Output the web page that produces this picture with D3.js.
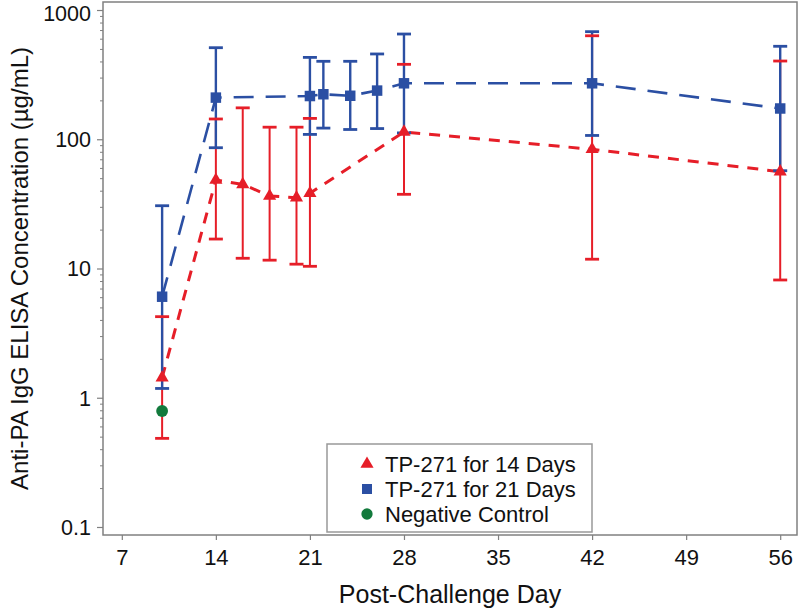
<!DOCTYPE html>
<html><head><meta charset="utf-8">
<script src="https://cdn.jsdelivr.net/npm/d3@7"></script>
<style>
body{margin:0;background:#fff;}
svg text{font-family:"Liberation Sans",Arial,sans-serif;fill:#111;}
</style></head>
<body>
<svg id="c" width="800" height="612"></svg>
<script>
// ---- data ----
const days14 = [10, 14, 16, 18, 20, 21, 28, 42, 56];
const mean14 = [1.43, 48.4, 44.8, 36.4, 35.3, 38.2, 114, 83.6, 56.1];
const upper14 = [4.24, 143.5, 175, 124, 124, 145, 380, 632, 403];
const lower14 = [0.485, 16.9, 12.0, 11.6, 10.8, 10.4, 37.5, 11.8, 8.15];

const days21 = [10, 14, 21, 22, 24, 26, 28, 42, 56];
const mean21 = [6.05, 210, 216, 223, 217, 238, 271, 271, 173];
const upper21 = [30.6, 511, 430, 401, 401, 457, 652, 680, 524];
const lower21 = [1.18, 86, 109, 122, 119, 121, 112, 107, 57.1];

const daysNeg = [10];
const meanNeg = [0.79];

const xTicks = [7, 14, 21, 28, 35, 42, 49, 56];
const yTicks = [0.1, 1, 10, 100, 1000];
const legendLabels = ["TP-271 for 14 Days", "TP-271 for 21 Days", "Negative Control"];

// ---- layout ----
const RED = "#e61e28", BLUE = "#2b4fa3", GREEN = "#127a3c", AXIS = "#808080";
const L = 103, R = 797, T = 2, B = 535;
const svg = d3.select("#c");

const x = d3.scaleLinear().domain([5.6, 57.25]).range([L, R]);
const y = d3.scaleLog().domain([Math.pow(10, -1.062), Math.pow(10, 3.062)]).range([B, T]);

// frame
svg.append("rect").attr("x", L).attr("y", T).attr("width", R - L).attr("height", B - T)
  .attr("fill", "none").attr("stroke", AXIS).attr("stroke-width", 1.5);

// x axis
const xAxis = svg.append("g").attr("transform", `translate(0,${B})`)
  .call(d3.axisBottom(x).tickValues(xTicks).tickSize(5).tickPadding(9).tickFormat(d3.format("d")));
xAxis.select(".domain").remove();
xAxis.selectAll("line").attr("stroke", AXIS).attr("stroke-width", 1.2);
xAxis.selectAll("text").attr("font-size", 22).attr("fill", "#111")
  .style("font-family", "Liberation Sans, Arial, sans-serif");

// y axis major
const yAxis = svg.append("g").attr("transform", `translate(${L},0)`)
  .call(d3.axisLeft(y).tickValues(yTicks).tickSize(6).tickPadding(6).tickFormat(d => String(d)));
yAxis.select(".domain").remove();
yAxis.selectAll("line").attr("stroke", AXIS).attr("stroke-width", 1.2);
yAxis.selectAll("text").attr("font-size", 21.5).attr("fill", "#111")
  .style("font-family", "Liberation Sans, Arial, sans-serif")
  .attr("dy", d => d === 1000 ? "0.5em" : "0.34em");

// y minor ticks
const minor = [];
for (let e = -1; e < 3; e++) for (let m = 2; m <= 9; m++) minor.push(m * Math.pow(10, e));
svg.append("g").attr("transform", `translate(${L},0)`)
  .call(d3.axisLeft(y).tickValues(minor).tickSize(3).tickFormat(""))
  .call(g => g.select(".domain").remove())
  .selectAll("line").attr("stroke", AXIS).attr("stroke-width", 1);

// axis titles
svg.append("text").attr("x", (L + R) / 2).attr("y", 603).attr("text-anchor", "middle")
  .attr("font-size", 25).text("Post-Challenge Day");
svg.append("text").attr("transform", `translate(28,${(T + B) / 2}) rotate(-90)`)
  .attr("text-anchor", "middle").attr("font-size", 24)
  .text("Anti-PA IgG ELISA Concentration (µg/mL)");

// series
const s14 = days14.map((d, i) => ({d, m: mean14[i], u: upper14[i], l: lower14[i]}));
const s21 = days21.map((d, i) => ({d, m: mean21[i], u: upper21[i], l: lower21[i]}));
const sNeg = daysNeg.map((d, i) => ({d, m: meanNeg[i]}));

const plot = svg.append("g");
const line = d3.line().x(p => x(p.d)).y(p => y(p.m));

// dashed lines
plot.append("path").datum(s14).attr("d", line).attr("fill", "none")
  .attr("stroke", RED).attr("stroke-width", 3).attr("stroke-dasharray", "11,9");
plot.append("path").datum(s21).attr("d", line).attr("fill", "none")
  .attr("stroke", BLUE).attr("stroke-width", 2.6).attr("stroke-dasharray", "20,12");

// error bar verticals
function verts(data, color, w) {
  plot.append("g").selectAll("line").data(data).join("line")
    .attr("x1", p => x(p.d)).attr("x2", p => x(p.d))
    .attr("y1", p => y(p.u)).attr("y2", p => y(p.l))
    .attr("stroke", color).attr("stroke-width", w);
}
function caps(data, color, w) {
  const g = plot.append("g");
  ["u", "l"].forEach(k => {
    g.selectAll("line." + k).data(data).join("line").attr("class", k)
      .attr("x1", p => x(p.d) - 7).attr("x2", p => x(p.d) + 7)
      .attr("y1", p => y(p[k])).attr("y2", p => y(p[k]))
      .attr("stroke", color).attr("stroke-width", w);
  });
}
verts(s14, RED, 2);
verts(s21, BLUE, 2.4);
caps(s21, BLUE, 2.8);
caps(s14, RED, 2.8);

// markers
plot.append("g").selectAll("path").data(s14).join("path")
  .attr("transform", p => `translate(${x(p.d)},${y(p.m)})`)
  .attr("d", d3.symbol(d3.symbolTriangle, 75)).attr("fill", RED);
plot.append("g").selectAll("path").data(s21).join("path")
  .attr("transform", p => `translate(${x(p.d)},${y(p.m)})`)
  .attr("d", d3.symbol(d3.symbolSquare, 110)).attr("fill", BLUE);
plot.append("g").selectAll("path").data(sNeg).join("path")
  .attr("transform", p => `translate(${x(p.d)},${y(p.m)})`)
  .attr("d", d3.symbol(d3.symbolCircle, 110)).attr("fill", GREEN);

// legend
const lg = svg.append("g");
lg.append("rect").attr("x", 327).attr("y", 444).attr("width", 265).attr("height", 88)
  .attr("fill", "#fff").attr("stroke", "#999").attr("stroke-width", 1.5);
const symTypes = [d3.symbolTriangle, d3.symbolSquare, d3.symbolCircle];
const symColors = [RED, BLUE, GREEN];
const rowY = [464, 489, 514];
legendLabels.forEach((t, i) => {
  lg.append("path").attr("transform", `translate(367,${rowY[i]})`)
    .attr("d", d3.symbol(symTypes[i], i === 0 ? 75 : 100)).attr("fill", symColors[i]);
  lg.append("text").attr("x", 385).attr("y", rowY[i]).attr("dy", "0.36em")
    .attr("font-size", 22).text(t);
});
</script>
</body></html>
